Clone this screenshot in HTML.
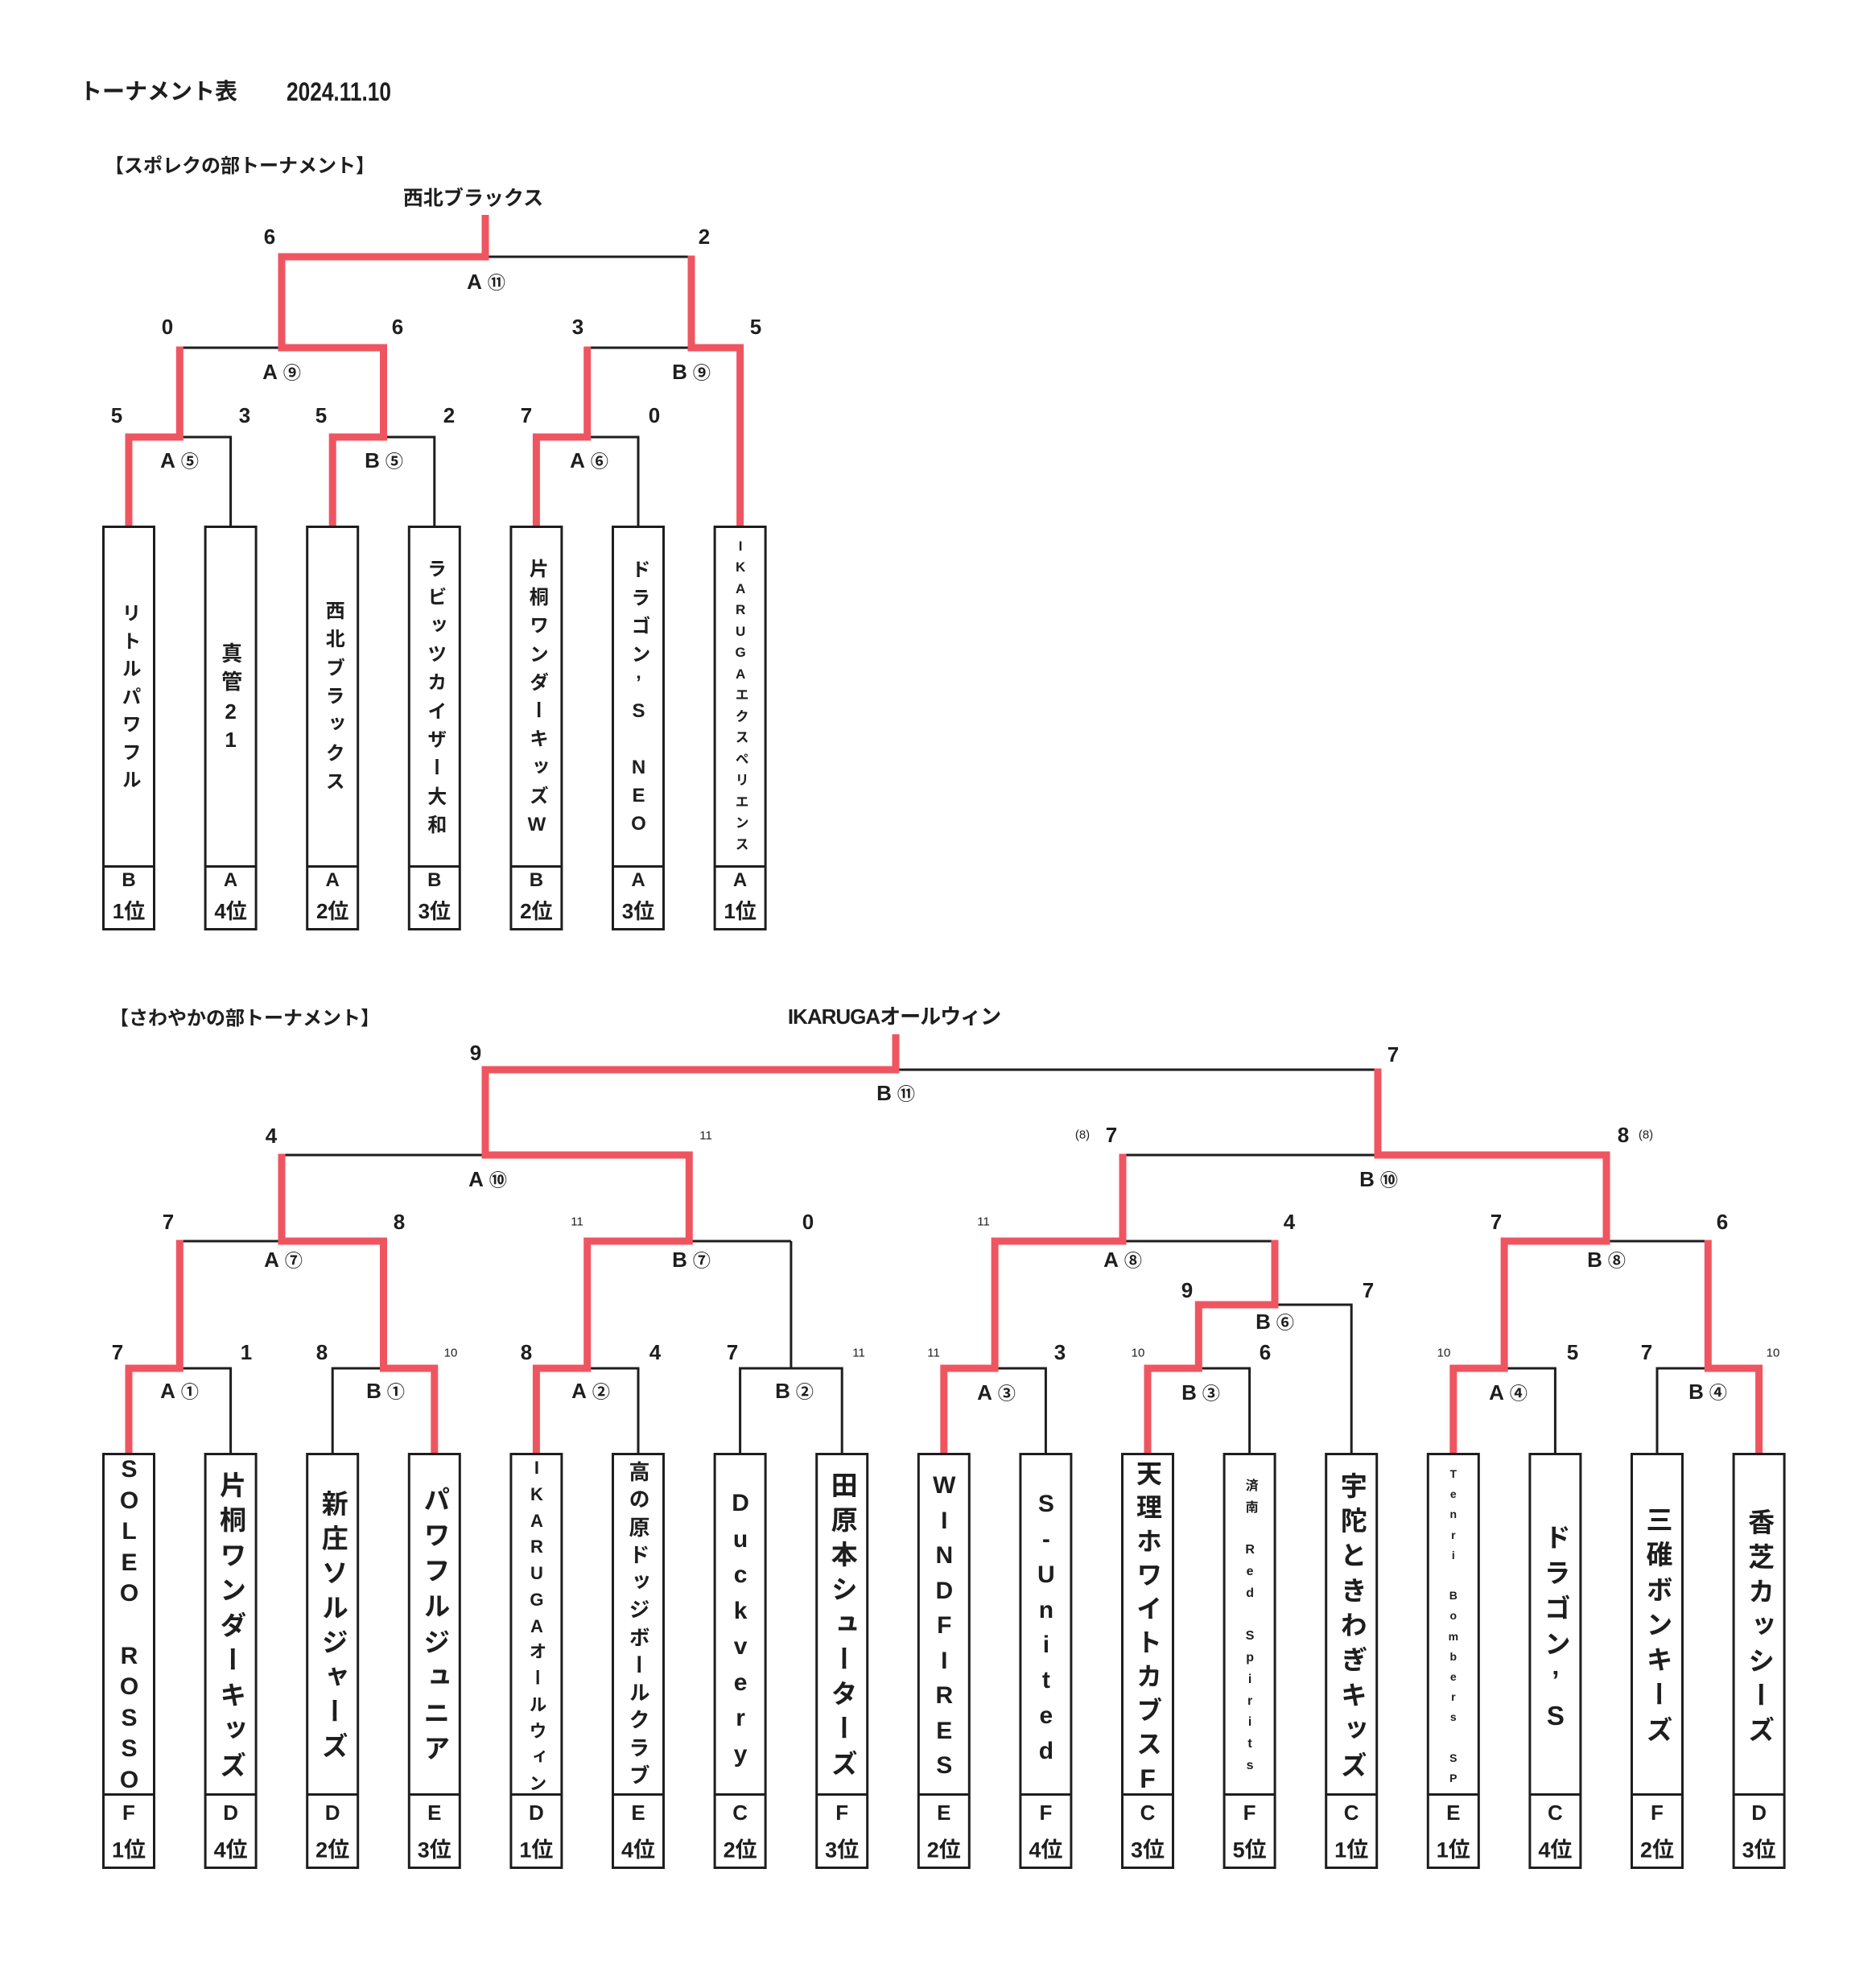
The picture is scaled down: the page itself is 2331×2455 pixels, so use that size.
<!DOCTYPE html>
<html><head><meta charset="utf-8"><style>
body{margin:0;background:#fff}
#p{position:relative;width:2331px;height:2455px;overflow:hidden;background:#fff;font-family:"Liberation Sans","Noto Sans CJK JP",sans-serif;color:#1e1e1e}
.t{position:absolute;transform:translate(-50%,-50%);white-space:nowrap;line-height:1;font-weight:bold}
.n{font-size:26px}
.s{font-size:15px;font-weight:normal}
.l{font-size:26px}
.l b{font-family:"Noto Sans CJK JP",sans-serif;font-size:22px;font-weight:bold;margin-left:7px}
.g{font-size:24px}.r{font-size:26px}
.g2{font-size:26px}.r2{font-size:27px}
.vt{position:absolute;width:66px;display:flex;flex-direction:column;justify-content:space-between;align-items:center;font-weight:bold}
.vt i{font-style:normal;display:block;width:66px;height:1em;writing-mode:vertical-rl;text-orientation:upright;text-align:center;line-height:66px}
svg{position:absolute;left:0;top:0}
</style></head><body><div id="p">
<svg width="2331" height="2455" viewBox="0 0 2331 2455">
<g stroke="#1e1e1e" stroke-width="3" fill="none">
<path d="M223.3 543H286.6V653 M476.5 543H539.8V653 M729.7 543H793V653 M223.3 432H350 M729.7 432H859 M603 319H859"/>
<path d="M223.3 1700H286.6V1805 M413.2 1805V1700H476.5 M729.7 1700H793V1805 M919.6 1805V1700H1046.2V1805 M982.9 1700V1542 M223.3 1542H350 M856.3 1542H982.9 M350 1435H603 M1113 1329H1712 M1236.1 1700H1299.4V1805 M1489.3 1700H1552.6V1805 M1584 1621H1679.2V1805 M1395 1542H1584 M1395 1435H1712 M1869.1 1700H1932.4V1805 M2059 1805V1700H2122.3 M1996 1542H2122.3"/>
</g>
<g stroke="#ef5560" stroke-width="9" fill="none" stroke-linejoin="miter">
<polyline points="160,653 160,543 223.3,543 223.3,430.5"/>
<polyline points="413.2,653 413.2,543 476.5,543 476.5,432 350,432 350,319 603,319 603,267"/>
<polyline points="666.4,653 666.4,543 729.7,543 729.7,430.5"/>
<polyline points="919.6,653 919.6,432 859,432 859,317.5"/>
<polyline points="160,1805 160,1700 223.3,1700 223.3,1540.5"/>
<polyline points="539.8,1805 539.8,1700 476.5,1700 476.5,1542 350,1542 350,1433.5"/>
<polyline points="666.4,1805 666.4,1700 729.7,1700 729.7,1542 856.3,1542 856.3,1435 603,1435 603,1329 1113,1329 1113,1285"/>
<polyline points="1172.8,1805 1172.8,1700 1236.1,1700 1236.1,1542 1395,1542 1395,1433.5"/>
<polyline points="1426,1805 1426,1700 1489.3,1700 1489.3,1621 1584,1621 1584,1540.5"/>
<polyline points="1805.8,1805 1805.8,1700 1869.1,1700 1869.1,1542 1996,1542 1996,1435 1712,1435 1712,1327.5"/>
<polyline points="2185.6,1805 2185.6,1700 2122.3,1700 2122.3,1540.5"/>
</g>
<g stroke="#1e1e1e" stroke-width="3" fill="none">
<rect x="128.5" y="654.5" width="63" height="500"/>
<rect x="255.1" y="654.5" width="63" height="500"/>
<rect x="381.7" y="654.5" width="63" height="500"/>
<rect x="508.3" y="654.5" width="63" height="500"/>
<rect x="634.9" y="654.5" width="63" height="500"/>
<rect x="761.5" y="654.5" width="63" height="500"/>
<rect x="888.1" y="654.5" width="63" height="500"/>
<path d="M128.5 1076.5h63 M255.1 1076.5h63 M381.7 1076.5h63 M508.3 1076.5h63 M634.9 1076.5h63 M761.5 1076.5h63 M888.1 1076.5h63"/>
<rect x="128.5" y="1806.5" width="63" height="514"/>
<rect x="255.1" y="1806.5" width="63" height="514"/>
<rect x="381.7" y="1806.5" width="63" height="514"/>
<rect x="508.3" y="1806.5" width="63" height="514"/>
<rect x="634.9" y="1806.5" width="63" height="514"/>
<rect x="761.5" y="1806.5" width="63" height="514"/>
<rect x="888.1" y="1806.5" width="63" height="514"/>
<rect x="1014.7" y="1806.5" width="63" height="514"/>
<rect x="1141.3" y="1806.5" width="63" height="514"/>
<rect x="1267.9" y="1806.5" width="63" height="514"/>
<rect x="1394.5" y="1806.5" width="63" height="514"/>
<rect x="1521.1" y="1806.5" width="63" height="514"/>
<rect x="1647.7" y="1806.5" width="63" height="514"/>
<rect x="1774.3" y="1806.5" width="63" height="514"/>
<rect x="1900.9" y="1806.5" width="63" height="514"/>
<rect x="2027.5" y="1806.5" width="63" height="514"/>
<rect x="2154.1" y="1806.5" width="63" height="514"/>
<path d="M128.5 2229.5h63 M255.1 2229.5h63 M381.7 2229.5h63 M508.3 2229.5h63 M634.9 2229.5h63 M761.5 2229.5h63 M888.1 2229.5h63 M1014.7 2229.5h63 M1141.3 2229.5h63 M1267.9 2229.5h63 M1394.5 2229.5h63 M1521.1 2229.5h63 M1647.7 2229.5h63 M1774.3 2229.5h63 M1900.9 2229.5h63 M2027.5 2229.5h63 M2154.1 2229.5h63"/>
</g>
</svg>

<!-- headers -->
<div class="t" style="left:197px;top:114px;font-size:28px">トーナメント表</div>
<div class="t" style="left:421px;top:114px;font-size:32px;transform:translate(-50%,-50%) scaleX(.82)">2024.11.10</div>
<div class="t" style="left:298px;top:207px;font-size:24px">【スポレクの部トーナメント】</div>
<div class="t" style="left:588px;top:247px;font-size:25px">西北ブラックス</div>

<!-- top scores -->
<div class="t n" style="left:335px;top:294px">6</div>
<div class="t n" style="left:875px;top:294px">2</div>
<div class="t n" style="left:208px;top:406px">0</div>
<div class="t n" style="left:494px;top:406px">6</div>
<div class="t n" style="left:718px;top:406px">3</div>
<div class="t n" style="left:939px;top:406px">5</div>
<div class="t n" style="left:145px;top:516px">5</div>
<div class="t n" style="left:304px;top:516px">3</div>
<div class="t n" style="left:399px;top:516px">5</div>
<div class="t n" style="left:558px;top:516px">2</div>
<div class="t n" style="left:654px;top:516px">7</div>
<div class="t n" style="left:813px;top:516px">0</div>
<!-- top labels -->
<div class="t l" style="left:604px;top:350px">A<b>⑪</b></div>
<div class="t l" style="left:350px;top:462px">A<b>⑨</b></div>
<div class="t l" style="left:859px;top:462px">B<b>⑨</b></div>
<div class="t l" style="left:223px;top:572px">A<b>⑤</b></div>
<div class="t l" style="left:477px;top:572px">B<b>⑤</b></div>
<div class="t l" style="left:732px;top:572px">A<b>⑥</b></div>

<!-- top box names -->
<div class="vt" style="left:127px;top:749px;height:231px;font-size:24px"><i>リ</i><i>ト</i><i>ル</i><i>パ</i><i>ワ</i><i>フ</i><i>ル</i></div>
<div class="vt" style="left:253.6px;top:798px;height:132px;font-size:26px"><i>真</i><i>管</i><i>2</i><i>1</i></div>
<div class="vt" style="left:380.2px;top:746px;height:236px;font-size:24px"><i>西</i><i>北</i><i>ブ</i><i>ラ</i><i>ッ</i><i>ク</i><i>ス</i></div>
<div class="vt" style="left:506.8px;top:694px;height:342px;font-size:24px"><i>ラ</i><i>ビ</i><i>ッ</i><i>ツ</i><i>カ</i><i>イ</i><i>ザ</i><i>ー</i><i>大</i><i>和</i></div>
<div class="vt" style="left:633.4px;top:694px;height:341px;font-size:24px"><i>片</i><i>桐</i><i>ワ</i><i>ン</i><i>ダ</i><i>ー</i><i>キ</i><i>ッ</i><i>ズ</i><i>W</i></div>
<div class="vt" style="left:760px;top:695px;height:339px;font-size:24px"><i>ド</i><i>ラ</i><i>ゴ</i><i>ン</i><i>’</i><i>S</i><i></i><i>N</i><i>E</i><i>O</i></div>
<div class="vt" style="left:886.6px;top:668.5px;height:388px;font-size:17px"><i>I</i><i>K</i><i>A</i><i>R</i><i>U</i><i>G</i><i>A</i><i>エ</i><i>ク</i><i>ス</i><i>ペ</i><i>リ</i><i>エ</i><i>ン</i><i>ス</i></div>

<!-- top lower cells -->
<div class="t g" style="left:160px;top:1094px">B</div><div class="t r" style="left:160px;top:1132px">1位</div>
<div class="t g" style="left:286.6px;top:1094px">A</div><div class="t r" style="left:286.6px;top:1132px">4位</div>
<div class="t g" style="left:413.2px;top:1094px">A</div><div class="t r" style="left:413.2px;top:1132px">2位</div>
<div class="t g" style="left:539.8px;top:1094px">B</div><div class="t r" style="left:539.8px;top:1132px">3位</div>
<div class="t g" style="left:666.4px;top:1094px">B</div><div class="t r" style="left:666.4px;top:1132px">2位</div>
<div class="t g" style="left:793px;top:1094px">A</div><div class="t r" style="left:793px;top:1132px">3位</div>
<div class="t g" style="left:919.6px;top:1094px">A</div><div class="t r" style="left:919.6px;top:1132px">1位</div>

<!-- bottom headers -->
<div class="t" style="left:304px;top:1266px;font-size:24px">【さわやかの部トーナメント】</div>
<div class="t" style="left:1111px;top:1263px;font-size:26px;letter-spacing:-1px">IKARUGAオールウィン</div>

<!-- bottom scores -->
<div class="t n" style="left:591px;top:1308px">9</div>
<div class="t n" style="left:1731px;top:1310px">7</div>
<div class="t l" style="left:1113px;top:1358px">B<b>⑪</b></div>
<div class="t n" style="left:337px;top:1411px">4</div>
<div class="t s" style="left:877px;top:1411px">11</div>
<div class="t s" style="left:1345px;top:1410px">(8)</div>
<div class="t n" style="left:1381px;top:1410px">7</div>
<div class="t n" style="left:2017px;top:1410px">8</div>
<div class="t s" style="left:2045px;top:1410px">(8)</div>
<div class="t l" style="left:606px;top:1465px">A<b>⑩</b></div>
<div class="t l" style="left:1713px;top:1465px">B<b>⑩</b></div>
<div class="t n" style="left:209px;top:1518px">7</div>
<div class="t n" style="left:496px;top:1518px">8</div>
<div class="t s" style="left:717px;top:1518px">11</div>
<div class="t n" style="left:1004px;top:1518px">0</div>
<div class="t s" style="left:1222px;top:1518px">11</div>
<div class="t n" style="left:1602px;top:1518px">4</div>
<div class="t n" style="left:1859px;top:1518px">7</div>
<div class="t n" style="left:2140px;top:1518px">6</div>
<div class="t l" style="left:352px;top:1565px">A<b>⑦</b></div>
<div class="t l" style="left:859px;top:1565px">B<b>⑦</b></div>
<div class="t l" style="left:1395px;top:1565px">A<b>⑧</b></div>
<div class="t l" style="left:1996px;top:1565px">B<b>⑧</b></div>
<div class="t n" style="left:1475px;top:1603px">9</div>
<div class="t n" style="left:1700px;top:1603px">7</div>
<div class="t l" style="left:1584px;top:1642px">B<b>⑥</b></div>
<div class="t n" style="left:146px;top:1680px">7</div>
<div class="t n" style="left:306px;top:1680px">1</div>
<div class="t n" style="left:400px;top:1680px">8</div>
<div class="t s" style="left:560px;top:1681px">10</div>
<div class="t n" style="left:654px;top:1680px">8</div>
<div class="t n" style="left:814px;top:1680px">4</div>
<div class="t n" style="left:910px;top:1680px">7</div>
<div class="t s" style="left:1067px;top:1681px">11</div>
<div class="t s" style="left:1160px;top:1681px">11</div>
<div class="t n" style="left:1317px;top:1680px">3</div>
<div class="t s" style="left:1414px;top:1681px">10</div>
<div class="t n" style="left:1572px;top:1680px">6</div>
<div class="t s" style="left:1794px;top:1681px">10</div>
<div class="t n" style="left:1954px;top:1680px">5</div>
<div class="t n" style="left:2046px;top:1680px">7</div>
<div class="t s" style="left:2203px;top:1681px">10</div>
<div class="t l" style="left:223px;top:1728px">A<b>①</b></div>
<div class="t l" style="left:479px;top:1728px">B<b>①</b></div>
<div class="t l" style="left:734px;top:1728px">A<b>②</b></div>
<div class="t l" style="left:987px;top:1728px">B<b>②</b></div>
<div class="t l" style="left:1238px;top:1730px">A<b>③</b></div>
<div class="t l" style="left:1492px;top:1730px">B<b>③</b></div>
<div class="t l" style="left:1874px;top:1730px">A<b>④</b></div>
<div class="t l" style="left:2122px;top:1729px">B<b>④</b></div>

<!-- bottom box names -->
<div class="vt" style="left:127px;top:1809px;height:416px;font-size:30px"><i>S</i><i>O</i><i>L</i><i>E</i><i>O</i><i></i><i>R</i><i>O</i><i>S</i><i>S</i><i>O</i></div>
<div class="vt" style="left:253.6px;top:1827.5px;height:381px;font-size:33px"><i>片</i><i>桐</i><i>ワ</i><i>ン</i><i>ダ</i><i>ー</i><i>キ</i><i>ッ</i><i>ズ</i></div>
<div class="vt" style="left:380.2px;top:1850.5px;height:334px;font-size:33px"><i>新</i><i>庄</i><i>ソ</i><i>ル</i><i>ジ</i><i>ャ</i><i>ー</i><i>ズ</i></div>
<div class="vt" style="left:506.8px;top:1845.5px;height:343px;font-size:33px"><i>パ</i><i>ワ</i><i>フ</i><i>ル</i><i>ジ</i><i>ュ</i><i>ニ</i><i>ア</i></div>
<div class="vt" style="left:633.4px;top:1811px;height:415px;font-size:22px"><i>I</i><i>K</i><i>A</i><i>R</i><i>U</i><i>G</i><i>A</i><i>オ</i><i>ー</i><i>ル</i><i>ウ</i><i>ィ</i><i>ン</i></div>
<div class="vt" style="left:760px;top:1815px;height:403px;font-size:26px"><i>高</i><i>の</i><i>原</i><i>ド</i><i>ッ</i><i>ジ</i><i>ボ</i><i>ー</i><i>ル</i><i>ク</i><i>ラ</i><i>ブ</i></div>
<div class="vt" style="left:886.6px;top:1851px;height:342px;font-size:30px"><i>D</i><i>u</i><i>c</i><i>k</i><i>v</i><i>e</i><i>r</i><i>y</i></div>
<div class="vt" style="left:1013.2px;top:1827.5px;height:379px;font-size:33px"><i>田</i><i>原</i><i>本</i><i>シ</i><i>ュ</i><i>ー</i><i>タ</i><i>ー</i><i>ズ</i></div>
<div class="vt" style="left:1139.8px;top:1829px;height:378px;font-size:30px"><i>W</i><i>I</i><i>N</i><i>D</i><i>F</i><i>I</i><i>R</i><i>E</i><i>S</i></div>
<div class="vt" style="left:1266.4px;top:1852px;height:337px;font-size:30px"><i>S</i><i>-</i><i>U</i><i>n</i><i>i</i><i>t</i><i>e</i><i>d</i></div>
<div class="vt" style="left:1393px;top:1814px;height:410px;font-size:32px"><i>天</i><i>理</i><i>ホ</i><i>ワ</i><i>イ</i><i>ト</i><i>カ</i><i>ブ</i><i>ス</i><i>F</i></div>
<div class="vt" style="left:1519.6px;top:1837px;height:364px;font-size:16px"><i>済</i><i>南</i><i></i><i>R</i><i>e</i><i>d</i><i></i><i>S</i><i>p</i><i>i</i><i>r</i><i>i</i><i>t</i><i>s</i></div>
<div class="vt" style="left:1646.2px;top:1828.5px;height:380px;font-size:33px"><i>宇</i><i>陀</i><i>と</i><i>き</i><i>わ</i><i>ぎ</i><i>キ</i><i>ッ</i><i>ズ</i></div>
<div class="vt" style="left:1772.8px;top:1823px;height:392px;font-size:14px"><i>T</i><i>e</i><i>n</i><i>r</i><i>i</i><i></i><i>B</i><i>o</i><i>m</i><i>b</i><i>e</i><i>r</i><i>s</i><i></i><i>S</i><i>P</i></div>
<div class="vt" style="left:1899.4px;top:1892.5px;height:253px;font-size:33px"><i>ド</i><i>ラ</i><i>ゴ</i><i>ン</i><i>’</i><i>S</i></div>
<div class="vt" style="left:2026px;top:1870.5px;height:294px;font-size:33px"><i>三</i><i>碓</i><i>ボ</i><i>ン</i><i>キ</i><i>ー</i><i>ズ</i></div>
<div class="vt" style="left:2152.6px;top:1873.5px;height:291px;font-size:33px"><i>香</i><i>芝</i><i>カ</i><i>ッ</i><i>シ</i><i>ー</i><i>ズ</i></div>

<!-- bottom lower cells -->
<div class="t g2" style="left:160px;top:2252px">F</div><div class="t r2" style="left:160px;top:2299px">1位</div>
<div class="t g2" style="left:286.6px;top:2252px">D</div><div class="t r2" style="left:286.6px;top:2299px">4位</div>
<div class="t g2" style="left:413.2px;top:2252px">D</div><div class="t r2" style="left:413.2px;top:2299px">2位</div>
<div class="t g2" style="left:539.8px;top:2252px">E</div><div class="t r2" style="left:539.8px;top:2299px">3位</div>
<div class="t g2" style="left:666.4px;top:2252px">D</div><div class="t r2" style="left:666.4px;top:2299px">1位</div>
<div class="t g2" style="left:793px;top:2252px">E</div><div class="t r2" style="left:793px;top:2299px">4位</div>
<div class="t g2" style="left:919.6px;top:2252px">C</div><div class="t r2" style="left:919.6px;top:2299px">2位</div>
<div class="t g2" style="left:1046.2px;top:2252px">F</div><div class="t r2" style="left:1046.2px;top:2299px">3位</div>
<div class="t g2" style="left:1172.8px;top:2252px">E</div><div class="t r2" style="left:1172.8px;top:2299px">2位</div>
<div class="t g2" style="left:1299.4px;top:2252px">F</div><div class="t r2" style="left:1299.4px;top:2299px">4位</div>
<div class="t g2" style="left:1426px;top:2252px">C</div><div class="t r2" style="left:1426px;top:2299px">3位</div>
<div class="t g2" style="left:1552.6px;top:2252px">F</div><div class="t r2" style="left:1552.6px;top:2299px">5位</div>
<div class="t g2" style="left:1679.2px;top:2252px">C</div><div class="t r2" style="left:1679.2px;top:2299px">1位</div>
<div class="t g2" style="left:1805.8px;top:2252px">E</div><div class="t r2" style="left:1805.8px;top:2299px">1位</div>
<div class="t g2" style="left:1932.4px;top:2252px">C</div><div class="t r2" style="left:1932.4px;top:2299px">4位</div>
<div class="t g2" style="left:2059px;top:2252px">F</div><div class="t r2" style="left:2059px;top:2299px">2位</div>
<div class="t g2" style="left:2185.6px;top:2252px">D</div><div class="t r2" style="left:2185.6px;top:2299px">3位</div>
</div></body></html>
